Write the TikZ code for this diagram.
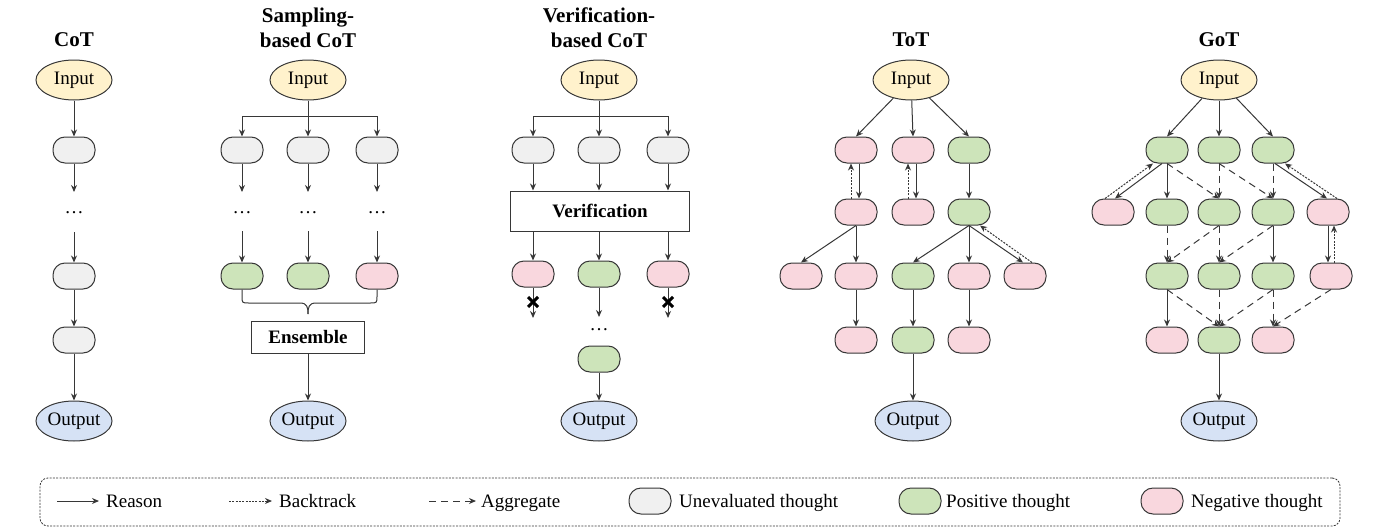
\documentclass[tikz,border=0pt]{standalone}
\usepackage{fontspec}
\setmainfont{Liberation Serif}
\usetikzlibrary{shapes.geometric,arrows.meta,calc}
\definecolor{inY}{RGB}{255,242,204}
\definecolor{outB}{RGB}{214,226,245}
\definecolor{grayF}{RGB}{240,240,240}
\definecolor{greenF}{RGB}{205,228,186}
\definecolor{pinkF}{RGB}{249,215,222}
\definecolor{lc}{RGB}{55,55,55}
\begin{document}
\begin{tikzpicture}[x=1pt,y=-1pt,
 font=\fontsize{19}{22}\selectfont,
 th/.style={draw=lc,line width=1pt,rounded corners=12pt,minimum width=42pt,minimum height=26pt,inner sep=0pt},
 gr/.style={th,fill=grayF}, gn/.style={th,fill=greenF}, pk/.style={th,fill=pinkF},
 io/.style={ellipse,draw=lc,line width=1pt,minimum width=76pt,minimum height=40pt,inner sep=0pt},
 inp/.style={io,fill=inY}, outp/.style={io,fill=outB},
 ttl/.style={font=\fontsize{21}{25}\selectfont\bfseries,align=center},
 arr/.style={draw=lc,line width=1pt,-{Stealth[length=7pt,width=6pt]}},
 bk/.style={arr,dash pattern=on 2pt off 1.3pt},
 ag/.style={arr,dash pattern=on 7pt off 5pt},
 dotsn/.style={inner sep=0pt},
 boxn/.style={draw=lc,line width=1pt,font=\fontsize{19}{22}\selectfont\bfseries,inner sep=0pt},
 lgt/.style={anchor=base west,inner sep=0pt}
]
\useasboundingbox (0,0) rectangle (1392,530);

% ---------------- CoT
\node[ttl] (cT) at (74,40) {CoT};
\node[inp] (cin) at (74,80) {Input};
\node[gr] (c1) at (74,150) {};
\coordinate (c1e) at (74,192);
\node[dotsn] (cd) at (74,213) {\dots};
\coordinate (c2s) at (74,232);
\node[gr] (c2) at (74,276) {};
\node[gr] (c3) at (74,340) {};
\node[outp] (cout) at (74,421) {Output};
\draw[arr] (cin) -- (c1);
\draw[arr] (c1) -- (c1e);
\draw[arr] (c2s) -- (c2);
\draw[arr] (c2) -- (c3);
\draw[arr] (c3) -- (cout);

% ---------------- Sampling-based CoT
\node[ttl] (sT) at (308,28) {Sampling-\\based CoT};
\node[inp] (sin) at (308,80) {Input};
\coordinate (sbus) at (308,116);
\node[gr] (s1a) at (242,150) {};
\node[gr] (s1b) at (308,150) {};
\node[gr] (s1c) at (377,150) {};
\draw[arr] (sin) -- (s1b);
\draw[arr] (sbus) -| (s1a.north);
\draw[arr] (sbus) -| (s1c.north);
\coordinate (s1ae) at (242,192);
\coordinate (s1be) at (308,192);
\coordinate (s1ce) at (377,192);
\draw[arr] (s1a) -- (s1ae);
\draw[arr] (s1b) -- (s1be);
\draw[arr] (s1c) -- (s1ce);
\node[dotsn] (sda) at (242,213) {\dots};
\node[dotsn] (sdb) at (308,213) {\dots};
\node[dotsn] (sdc) at (377,213) {\dots};
\coordinate (s2as) at (242,231);
\coordinate (s2bs) at (308,231);
\coordinate (s2cs) at (377,231);
\node[gn] (s2a) at (242,276) {};
\node[gn] (s2b) at (308,276) {};
\node[pk] (s2c) at (377,276) {};
\draw[arr] (s2as) -- (s2a);
\draw[arr] (s2bs) -- (s2b);
\draw[arr] (s2cs) -- (s2c);
\coordinate (btip) at (308,314);
\draw[lc,line width=1pt] (s2a.south) -- (242,296) .. controls (242,303) .. (249,303) -- (300,303) .. controls (307,303) and (308,307) .. (btip);
\draw[lc,line width=1pt] (s2c.south) -- (377,296) .. controls (377,303) .. (370,303) -- (316,303) .. controls (309,303) and (308,307) .. (btip);
\node[boxn,minimum width=113pt,minimum height=32pt] (ens) at (308,337) {Ensemble};
\node[outp] (sout) at (308,421) {Output};
\draw[arr] (ens) -- (sout);

% ---------------- Verification-based CoT
\node[ttl] (vT) at (599,28) {Verification-\\based CoT};
\node[inp] (vin) at (599,80) {Input};
\coordinate (vbus) at (599,116);
\node[gr] (v1a) at (533,150) {};
\node[gr] (v1b) at (599,150) {};
\node[gr] (v1c) at (668,150) {};
\draw[arr] (vin) -- (v1b);
\draw[arr] (vbus) -| (v1a.north);
\draw[arr] (vbus) -| (v1c.north);
\node[boxn,minimum width=179pt,minimum height=40pt] (vbox) at (600,211) {Verification};
\draw[arr] (v1a.south) -- (v1a.south |- vbox.north);
\draw[arr] (v1b.south) -- (v1b.south |- vbox.north);
\draw[arr] (v1c.south) -- (v1c.south |- vbox.north);
\node[pk] (v2a) at (533,274) {};
\node[gn] (v2b) at (599,274) {};
\node[pk] (v2c) at (668,274) {};
\draw[arr] (v2a.north |- vbox.south) -- (v2a.north);
\draw[arr] (v2b.north |- vbox.south) -- (v2b.north);
\draw[arr] (v2c.north |- vbox.south) -- (v2c.north);
\coordinate (v2ae) at (533,318);
\coordinate (v2be) at (599,317);
\coordinate (v2ce) at (668,318);
\draw[arr] (v2a) -- (v2ae);
\draw[arr] (v2b) -- (v2be);
\draw[arr] (v2c) -- (v2ce);
\coordinate (xa) at (533,302);
\coordinate (xc) at (668,302);
\draw[black,line width=3pt] ($(xa)+(-5,-5)$) -- ($(xa)+(5,5)$) ($(xa)+(-5,5)$) -- ($(xa)+(5,-5)$);
\draw[black,line width=3pt] ($(xc)+(-5,-5)$) -- ($(xc)+(5,5)$) ($(xc)+(-5,5)$) -- ($(xc)+(5,-5)$);
\node[dotsn] (vd) at (599,330) {\dots};
\node[gn] (v3) at (599,359) {};
\node[outp] (vout) at (599,421) {Output};
\draw[arr] (v3) -- (vout);

% ---------------- ToT
\node[ttl] (tT) at (911,40) {ToT};
\node[inp] (tin) at (911,80) {Input};
\node[pk] (t1a) at (856,150) {};
\node[pk] (t1b) at (913,150) {};
\node[gn] (t1c) at (969,150) {};
\node[pk] (t2a) at (856,212) {};
\node[pk] (t2b) at (913,212) {};
\node[gn] (t2c) at (969,212) {};
\node[pk] (t3a) at (801,276) {};
\node[pk] (t3b) at (856,276) {};
\node[gn] (t3c) at (913,276) {};
\node[pk] (t3d) at (969,276) {};
\node[pk] (t3e) at (1025,276) {};
\node[pk] (t4a) at (856,340) {};
\node[gn] (t4b) at (913,340) {};
\node[pk] (t4c) at (969,340) {};
\node[outp] (tout) at (913,421) {Output};
\draw[arr] (tin) -- (t1a.north);
\draw[arr] (tin) -- (t1b.north);
\draw[arr] (tin) -- (t1c.north);
\draw[arr] ([xshift=3pt]t1a.south) -- ([xshift=3pt]t2a.north);
\draw[bk] ([xshift=-5pt]t2a.north) -- ([xshift=-5pt]t1a.south);
\draw[arr] ([xshift=3pt]t1b.south) -- ([xshift=3pt]t2b.north);
\draw[bk] ([xshift=-5pt]t2b.north) -- ([xshift=-5pt]t1b.south);
\draw[arr] (t1c) -- (t2c);
\draw[arr] (t2a.south) -- (t3a.north);
\draw[arr] (t2a) -- (t3b);
\draw[arr] (t2c.south) -- (t3c.north);
\draw[arr] (t2c) -- (t3d);
\draw[arr] (t2c.south) -- ([xshift=-2pt]t3e.north);
\draw[bk] ([xshift=7pt]t3e.north) -- ([xshift=11pt]t2c.south);
\draw[arr] (t3b) -- (t4a);
\draw[arr] (t3c) -- (t4b);
\draw[arr] (t3d) -- (t4c);
\draw[arr] (t4b) -- (tout);

% ---------------- GoT
\node[ttl] (gT) at (1219,40) {GoT};
\node[inp] (gin) at (1219,80) {Input};
\node[gn] (g1a) at (1167,150) {};
\node[gn] (g1b) at (1219,150) {};
\node[gn] (g1c) at (1273,150) {};
\node[pk] (g2a) at (1113,212) {};
\node[gn] (g2b) at (1167,212) {};
\node[gn] (g2c) at (1219,212) {};
\node[gn] (g2d) at (1273,212) {};
\node[pk] (g2e) at (1328,212) {};
\node[gn] (g3a) at (1167,276) {};
\node[gn] (g3b) at (1219,276) {};
\node[gn] (g3c) at (1273,276) {};
\node[pk] (g3d) at (1331,276) {};
\node[pk] (g4a) at (1167,340) {};
\node[gn] (g4b) at (1219,340) {};
\node[pk] (g4c) at (1273,340) {};
\node[outp] (gout) at (1219,421) {Output};
\draw[arr] (gin) -- (g1a.north);
\draw[arr] (gin) -- (g1b.north);
\draw[arr] (gin) -- (g1c.north);
\draw[arr] ([xshift=-5pt]g1a.south) -- ([xshift=2pt]g2a.north);
\draw[bk] ([xshift=-8pt]g2a.north) -- ([xshift=-14pt]g1a.south);
\draw[arr] (g1a) -- (g2b);
\draw[ag] (g1a.south) -- (g2c.north);
\draw[ag] (g1b) -- (g2c);
\draw[ag] (g1b.south) -- (g2d.north);
\draw[ag] (g1c) -- (g2d);
\draw[arr] ([xshift=2pt]g1c.south) -- ([xshift=-1pt]g2e.north);
\draw[bk] ([xshift=9pt]g2e.north) -- ([xshift=12pt]g1c.south);
\draw[ag] (g2b) -- (g3a);
\draw[ag] (g2c.south) -- (g3a.north);
\draw[ag] (g2c) -- (g3b);
\draw[ag] (g2d.south) -- (g3b.north);
\draw[arr] (g2d) -- (g3c);
\draw[arr] ([xshift=0pt]g2e.south) -- ([xshift=-3pt]g3d.north);
\draw[bk] ([xshift=3pt]g3d.north) -- ([xshift=6pt]g2e.south);
\draw[arr] (g3a) -- (g4a);
\draw[ag] (g3a.south) -- (g4b.north);
\draw[ag] (g3b) -- (g4b);
\draw[ag] (g3c.south) -- (g4b.north);
\draw[ag] (g3c) -- (g4c);
\draw[ag] (g3d.south) -- (g4c.north);
\draw[arr] (g4b) -- (gout);

% ---------------- Legend
\node[draw=lc,line width=0.8pt,dash pattern=on 2pt off 1.3pt,rounded corners=8pt,minimum width=1300pt,minimum height=48pt,inner sep=0pt] (leg) at (690,502) {};
\coordinate (l1s) at (57,501); \coordinate (l1e) at (99,501);
\draw[arr] (l1s) -- (l1e);
\node[lgt] (l1t) at (106,507) {Reason};
\coordinate (l2s) at (229,501); \coordinate (l2e) at (272,501);
\draw[bk] (l2s) -- (l2e);
\node[lgt] (l2t) at (279,507) {Backtrack};
\coordinate (l3s) at (429,501); \coordinate (l3e) at (476,501);
\draw[ag] (l3s) -- (l3e);
\node[lgt] (l3t) at (481,507) {Aggregate};
\node[gr] (l4) at (650,501) {};
\node[lgt] (l4t) at (679,507) {Unevaluated thought};
\node[gn] (l5) at (920,501) {};
\node[lgt] (l5t) at (946,507) {Positive thought};
\node[pk] (l6) at (1162,501) {};
\node[lgt] (l6t) at (1191,507) {Negative thought};
\end{tikzpicture}
\end{document}
